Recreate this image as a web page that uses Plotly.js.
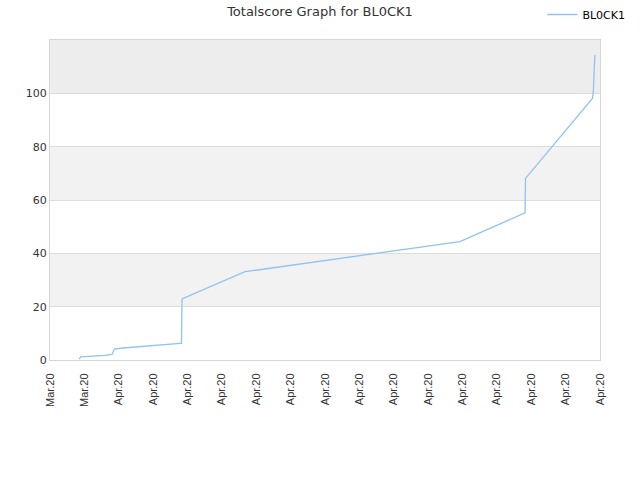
<!DOCTYPE html>
<html>
<head>
<meta charset="utf-8">
<script src="https://cdn.plot.ly/plotly-3.0.1.min.js"></script>
<style>html,body{margin:0;padding:0;background:#fff;}#chart{width:640px;height:480px;}</style>
</head>
<body>
<div id="chart"></div>
<script>
var seriesName = 'BL0CK1';
var dates = [
  '2020-03-30 16:50', '2020-03-30 19:00', '2020-04-01 04:50', '2020-04-01 14:35',
  '2020-04-01 17:50', '2020-04-02 06:00', '2020-04-05 13:30', '2020-04-05 15:30',
  '2020-04-05 15:45', '2020-04-05 16:00', '2020-04-05 16:20', '2020-04-09 08:20',
  '2020-04-21 20:25', '2020-04-25 15:20', '2020-04-25 15:40', '2020-04-25 16:00',
  '2020-04-29 13:40', '2020-04-29 15:00', '2020-04-29 16:00', '2020-04-29 17:00'
];
var scores = [
  0.3, 1.2, 1.7, 2.1,
  4.1, 4.5, 6.2, 6.2,
  9.2, 15.2, 22.9, 33.1,
  44.4, 55.2, 61.2, 68.1,
  98.2, 102.0, 110.0, 114.4
];
var tickDates = ['2020-03-29','2020-03-31','2020-04-02','2020-04-04','2020-04-06','2020-04-08',
  '2020-04-10','2020-04-12','2020-04-14','2020-04-16','2020-04-18','2020-04-20','2020-04-22',
  '2020-04-24','2020-04-26','2020-04-28','2020-04-30'];
var tickLabels = ['Mar.20','Mar.20','Apr.20','Apr.20','Apr.20','Apr.20','Apr.20','Apr.20','Apr.20',
  'Apr.20','Apr.20','Apr.20','Apr.20','Apr.20','Apr.20','Apr.20','Apr.20'];
var bandStarts = [20, 60, 100];
var bandEnds = [40, 80, 120];
var bandColors = ['#f2f2f2', '#f2f2f2', '#ededed'];

var shapes = bandStarts.map(function(s, i){
  return {type:'rect', xref:'paper', yref:'y', x0:0, x1:1, y0:s, y1:bandEnds[i],
    fillcolor:bandColors[i], line:{width:0}, layer:'below'};
});

var trace = {
  x: dates, y: scores, type:'scatter', mode:'lines', name: seriesName,
  line:{color:'#90c2f5', width:1.3}, hoverinfo:'skip'
};

var layout = {
  width:640, height:480,
  margin:{l:50, r:40, t:40, b:120, autoexpand:false},
  paper_bgcolor:'#ffffff', plot_bgcolor:'rgba(0,0,0,0)',
  font:{family:'DejaVu Sans, sans-serif', size:11, color:'#333333'},
  title:{text:'Totalscore Graph for BL0CK1', x:0.5, xanchor:'center', y:0.985, yanchor:'top',
    font:{family:'DejaVu Sans, sans-serif', size:13, color:'#333333'}},
  showlegend:true,
  legend:{xref:'container', yref:'container', x:0.985, xanchor:'right', y:1.0, yanchor:'top',
    orientation:'h', itemwidth:30,
    font:{family:'DejaVu Sans, sans-serif', size:11, color:'#000'}, bgcolor:'rgba(0,0,0,0)'},
  xaxis:{type:'date', range:['2020-03-29','2020-04-30'], tickmode:'array',
    tickvals:tickDates, ticktext:tickLabels, tickangle:-90, ticklabelstandoff:8,
    tickfont:{family:'Liberation Sans, Arial, sans-serif', size:11, color:'#333'},
    showgrid:false, zeroline:false, showline:true, linecolor:'#d6d6d6', linewidth:1, mirror:true,
    ticks:'', ticklen:0},
  yaxis:{range:[0,120], tickvals:[0,20,40,60,80,100], showgrid:true, gridcolor:'#dddddd',
    zeroline:false, showline:true, linecolor:'#d6d6d6', linewidth:1, mirror:true,
    tickfont:{family:'DejaVu Sans, sans-serif', size:11, color:'#333'}, ticks:'', ticklen:0},
  shapes: shapes,
  hovermode:false
};

Plotly.newPlot('chart', [trace], layout, {staticPlot:true, displayModeBar:false});
</script>
</body>
</html>
